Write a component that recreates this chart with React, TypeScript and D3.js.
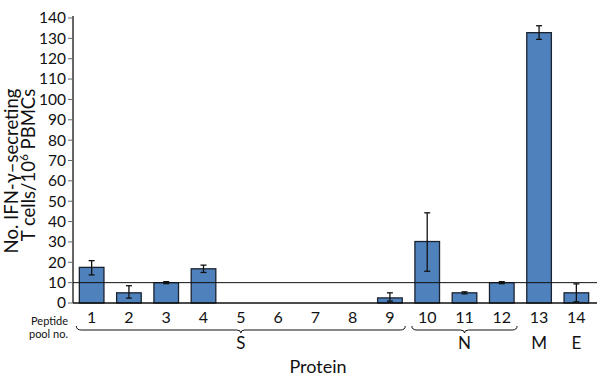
import * as d3 from "d3";
import React from "react";

// peptide pools and mean responses (SFU / 10^6 PBMCs)
const pools = ["1", "2", "3", "4", "5", "6", "7", "8", "9", "10", "11", "12", "13", "14"];
const means = [17.5, 5, 10, 16.8, 0, 0, 0, 0, 2.5, 30.2, 5, 10, 132.8, 5];
const errLow = [13.8, 2.4, 9.5, 15, 0, 0, 0, 0, 0.9, 15.6, 4.5, 9.5, 129.5, 0.6];
const errHigh = [20.8, 8.5, 10.5, 18.6, 0, 0, 0, 0, 5, 44.3, 5.5, 10.5, 136.2, 9.4];
const yTicks = [0, 10, 20, 30, 40, 50, 60, 70, 80, 90, 100, 110, 120, 130, 140];
const threshold = 10;

// protein groups: [label, first pool, last pool]
const proteins: [string, string, string][] = [
  ["S", "1", "9"],
  ["N", "10", "12"],
  ["M", "13", "13"],
  ["E", "14", "14"],
];

const font = "Lato, 'Open Sans', sans-serif";

export default function App() {
  const width = 600, height = 385;
  const left = 73, right = 595, top = 18, bottom = 303;

  const x = d3.scaleBand().domain(pools).range([left, right]).paddingInner(0.34).paddingOuter(0.17);
  const y = d3.scaleLinear().domain([0, 140]).range([bottom, top]);

  const brace = (x1: number, x2: number, yy: number) => {
    const mid = (x1 + x2) / 2;
    return `M${x1},${yy - 4} Q${x1},${yy} ${x1 + 5},${yy} L${mid - 4},${yy} Q${mid},${yy} ${mid},${yy + 3} Q${mid},${yy} ${mid + 4},${yy} L${x2 - 5},${yy} Q${x2},${yy} ${x2},${yy - 4}`;
  };

  return (
    <svg width={width} height={height} style={{ position: "absolute", left: 0, top: 0, background: "#fff" }} fontFamily={font}>
      {/* y axis */}
      <line x1={left} x2={left} y1={top - 2} y2={bottom} stroke="#666" strokeWidth={2} />
      {yTicks.map(t => (
        <g key={t}>
          <line x1={left - 5} x2={left} y1={y(t)} y2={y(t)} stroke="#666" strokeWidth={1} />
          <text x={left - 7} y={y(t)} dy="0.35em" textAnchor="end" fontSize={15.5} fill="#111">{t}</text>
        </g>
      ))}
      <text transform="translate(18,171) rotate(-90)" textAnchor="middle" fontSize={18.5} fill="#111">No. IFN-γ–secreting</text>
      <text transform="translate(35,165) rotate(-90)" textAnchor="middle" fontSize={18.5} fill="#111">
        T cells/10<tspan fontSize={12} dy="-7">6</tspan><tspan dy="7"> PBMCs</tspan>
      </text>

      {/* bars */}
      {pools.map((p, i) => means[i] > 0 && (
        <rect key={p} x={x(p)} y={y(means[i])} width={x.bandwidth()} height={y(0) - y(means[i])}
          fill="#4f81bd" stroke="#1a2330" strokeWidth={1.3} />
      ))}

      {/* threshold and x axis */}
      <line x1={left} x2={597} y1={y(threshold)} y2={y(threshold)} stroke="#111" strokeWidth={1} />
      <line x1={left} x2={597} y1={bottom} y2={bottom} stroke="#111" strokeWidth={1.5} />

      {/* error bars */}
      {pools.map((p, i) => {
        if (errHigh[i] === errLow[i]) return null;
        const cx = (x(p) as number) + x.bandwidth() / 2;
        return (
          <g key={p} stroke="#111" strokeWidth={1.3}>
            <line x1={cx} x2={cx} y1={y(errLow[i])} y2={y(errHigh[i])} />
            <line x1={cx - 3} x2={cx + 3} y1={y(errLow[i])} y2={y(errLow[i])} />
            <line x1={cx - 3} x2={cx + 3} y1={y(errHigh[i])} y2={y(errHigh[i])} />
          </g>
        );
      })}

      {/* pool labels */}
      {pools.map(p => (
        <text key={p} x={(x(p) as number) + x.bandwidth() / 2} y={323} textAnchor="middle" fontSize={16} fill="#111">{p}</text>
      ))}
      <text x={68} y={325} textAnchor="end" fontSize={11} fill="#111">Peptide</text>
      <text x={68} y={338} textAnchor="end" fontSize={11} fill="#111">pool no.</text>

      {/* protein braces */}
      {proteins.map(([name, a, b]) => {
        const x1 = x(a) as number, x2 = (x(b) as number) + x.bandwidth();
        const cx = (x1 + x2) / 2;
        return (
          <g key={name}>
            {a !== b && <path d={brace(x1 - 3, x2 + 3, 330)} fill="none" stroke="#111" strokeWidth={1} />}
            <text x={cx} y={349} textAnchor="middle" fontSize={17} fill="#111">{name}</text>
          </g>
        );
      })}
      <text x={318} y={373} textAnchor="middle" fontSize={18} fill="#111">Protein</text>
    </svg>
  );
}
